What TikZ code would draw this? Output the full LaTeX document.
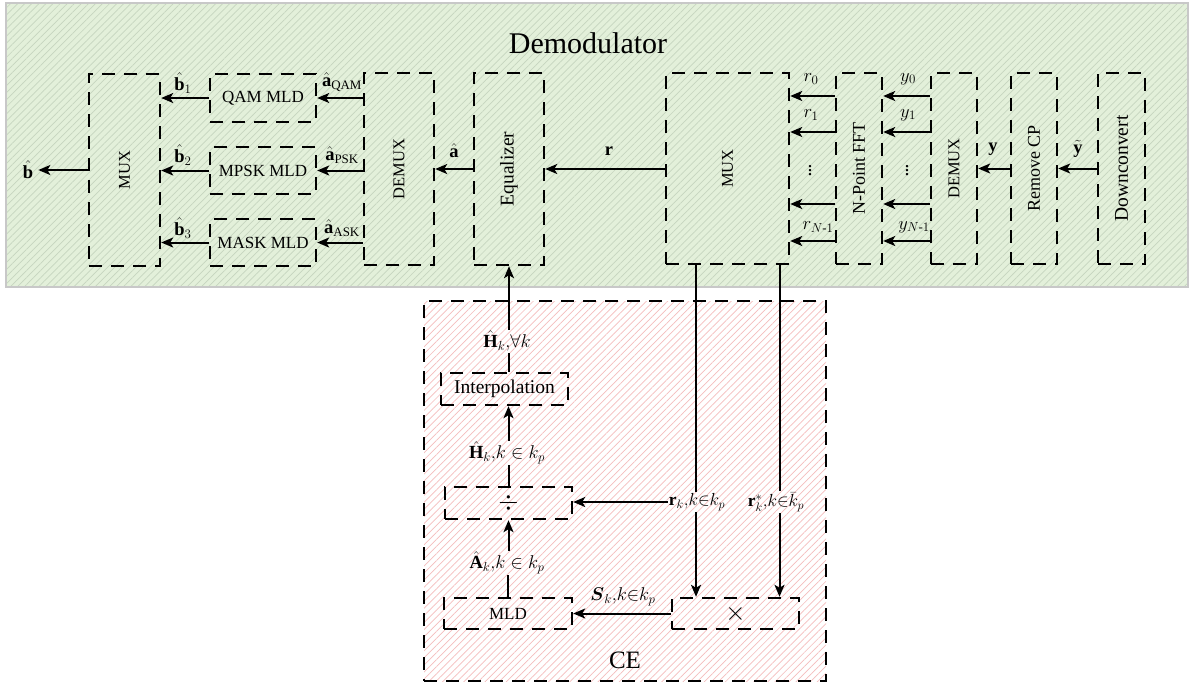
\documentclass[tikz,border=0pt]{standalone}
\usepackage{fix-cm}
\usepackage{amsmath}
\usepackage{fontspec}
\setmainfont{Liberation Serif}
\usetikzlibrary{arrows.meta,patterns.meta}
\definecolor{demfill}{HTML}{E3F0DA}
\definecolor{demhatch}{HTML}{C6D5BF}
\definecolor{cehatch}{HTML}{F5BDBD}
\definecolor{demborder}{HTML}{C8C8C8}
\newcommand{\fs}[1]{\fontsize{#1}{#1}\selectfont}
\tikzset{
  dbox/.style={draw, line width=2.4pt, dash pattern=on 13pt off 9pt, inner sep=0pt},
  conn/.style={line width=2pt},
  arr/.style={conn, -{Stealth[length=12pt,width=10pt,inset=3pt]}},
  lbl/.style={font=\fs{18.5}, inner sep=1pt},
  btxt/.style={font=\fs{17}, inner sep=0pt},
  vtxt/.style={inner sep=0pt, rotate=90},
  hatchgreen/.style={pattern={Lines[angle=45,distance=5pt,line width=0.7pt]}, pattern color=demhatch},
  hatchpink/.style={pattern={Lines[angle=45,distance=5pt,line width=0.7pt]}, pattern color=cehatch},
}
\begin{document}
\begin{tikzpicture}[x=1pt,y=-1pt]
\useasboundingbox (0,0) rectangle (1191,686);
\fill[white] (0,0) rectangle (1191,686);
% regions
\node[draw=demborder, line width=2pt, preaction={fill=demfill}, hatchgreen,
      minimum width=1182pt, minimum height=284pt, inner sep=0pt] (demod) at (597,145) {};
\node[dbox, preaction={fill=white}, hatchpink,
      minimum width=402pt, minimum height=380pt] (ce) at (625,491) {};
\node[font=\fs{30}, inner sep=0pt] (demodt) at (588,43) {Demodulator};
\node[font=\fs{25}, inner sep=0pt] (cet) at (625,660) {CE};

% demodulator boxes
\node[dbox, minimum width=71pt, minimum height=192pt] (mux1) at (124.5,170) {};
\node[vtxt, font=\fs{16.5}] (mux1t) at (mux1) {MUX};
\node[dbox, btxt, minimum width=106pt, minimum height=48pt] (qam) at (263,98) {QAM MLD};
\node[dbox, btxt, minimum width=106pt, minimum height=47pt] (mpsk) at (263,170.5) {MPSK MLD};
\node[dbox, btxt, minimum width=106pt, minimum height=47pt] (mask) at (263,242.5) {MASK MLD};
\node[dbox, minimum width=70pt, minimum height=192pt] (demux1) at (399,169) {};
\node[vtxt, font=\fs{16.5}] (demux1t) at (demux1) {DEMUX};
\node[dbox, minimum width=70pt, minimum height=192pt] (eq) at (509,169) {};
\node[vtxt, font=\fs{19.5}] (eqt) at (eq) {Equalizer};
\node[dbox, minimum width=123pt, minimum height=191pt] (mux2) at (727.5,168.5) {};
\node[vtxt, font=\fs{16.5}] (mux2t) at (mux2) {MUX};
\node[dbox, minimum width=46pt, minimum height=191pt] (fft) at (859,168.5) {};
\node[vtxt, font=\fs{18}] (fftt) at (fft) {N-Point FFT};
\node[dbox, minimum width=46pt, minimum height=191pt] (demux2) at (954,168.5) {};
\node[vtxt, font=\fs{16.5}] (demux2t) at (demux2) {DEMUX};
\node[dbox, minimum width=46pt, minimum height=191pt] (rcp) at (1034,168.5) {};
\node[vtxt, font=\fs{18}] (rcpt) at (rcp) {Remove CP};
\node[dbox, minimum width=47pt, minimum height=191pt] (down) at (1121.5,168.5) {};
\node[vtxt, font=\fs{19.5}] (downt) at (down) {Downconvert};

% CE boxes
\node[dbox, font=\fs{19.5}, minimum width=127pt, minimum height=32pt] (interp) at (504.5,389) {Interpolation};
\node[dbox, font=\fs{26}, minimum width=127pt, minimum height=32pt] (divb) at (508.5,503) {$\div$};
\node[dbox, btxt, minimum width=128pt, minimum height=31pt] (mld) at (508,613.5) {MLD};
\node[dbox, font=\fs{26}, minimum width=127pt, minimum height=31pt] (times) at (735.5,613.5) {$\times$};

% labels
\node[lbl, inner sep=5pt] (bhat) at (28,170) {$\hat{\mathbf{b}}$};
\node[lbl] (b1) at (183,83) {$\hat{\mathbf{b}}_1$};
\node[lbl] (b2) at (183,155) {$\hat{\mathbf{b}}_2$};
\node[lbl] (b3) at (183,228) {$\hat{\mathbf{b}}_3$};
\node[lbl] (aqam) at (342,82) {$\hat{\mathbf{a}}_{\text{QAM}}$};
\node[lbl] (apsk) at (342,155) {$\hat{\mathbf{a}}_{\text{PSK}}$};
\node[lbl] (aask) at (342,228) {$\hat{\mathbf{a}}_{\text{ASK}}$};
\node[lbl] (ahat) at (454,151) {$\hat{\mathbf{a}}$};
\node[lbl] (rlab) at (609,151) {$\mathbf{r}$};
\node[lbl] (r0) at (811,79) {$r_0$};
\node[lbl] (r1) at (811,115) {$r_1$};
\node[font=\fs{20}, inner sep=0pt] (rdots) at (810,168) {$\vdots$};
\node[lbl] (rN) at (818,227) {$r_{N\text{-}1}$};
\node[lbl] (y0) at (908,79) {$y_0$};
\node[lbl] (y1) at (908,115) {$y_1$};
\node[font=\fs{20}, inner sep=0pt] (ydots) at (907,168) {$\vdots$};
\node[lbl] (yN) at (914,227) {$y_{N\text{-}1}$};
\node[lbl] (ylab) at (993,149) {$\mathbf{y}$};
\node[lbl] (ytl) at (1078,149) {$\tilde{\mathbf{y}}$};
\node[lbl] (hkall) at (507,341) {$\hat{\mathbf{H}}_k{,}\forall k$};
\node[lbl] (hkp) at (507,453) {$\hat{\mathbf{H}}_k{,}k\in k_p$};
\node[lbl] (ak) at (507,563) {$\hat{\mathbf{A}}_k{,}k\in k_p$};
\node[lbl, font=\fs{17.5}] (rk) at (697,502) {$\mathbf{r}_k{,}k{\in}k_p$};
\node[lbl, font=\fs{17.5}] (rks) at (776,502) {$\mathbf{r}_k^*{,}k{\in}\bar{k}_p$};
\node[lbl] (sk) at (623,597) {$\boldsymbol{S}_k{,}k{\in}k_p$};

% channel levels
\coordinate (ch0) at (0,96);
\coordinate (ch1) at (0,132);
\coordinate (ch2) at (0,204);
\coordinate (ch3) at (0,241);
\coordinate (colrk) at (696,0);
\coordinate (colrks) at (779.5,0);

% demodulator connectors
\draw[arr] (mux1.west) -- (bhat.east |- mux1.west);
\draw[arr] (qam.west) -- (mux1.east |- qam.west);
\draw[arr] (mpsk.west) -- (mux1.east |- mpsk.west);
\draw[arr] (mask.west) -- (mux1.east |- mask.west);
\draw[arr] (demux1.west |- qam.east) -- (qam.east);
\draw[arr] (demux1.west |- mpsk.east) -- (mpsk.east);
\draw[arr] (demux1.west |- mask.east) -- (mask.east);
\draw[arr] (eq.west) -- (demux1.east |- eq.west);
\draw[arr] (mux2.west |- eq.east) -- (eq.east);
\foreach \c in {ch0,ch1,ch2,ch3}{
  \draw[arr] (fft.west |- \c) -- (mux2.east |- \c);
  \draw[arr] (demux2.west |- \c) -- (fft.east |- \c);
}
\draw[arr] (rcp.west) -- (demux2.east |- rcp.west);
\draw[arr] (down.west) -- (rcp.east |- down.west);

% CE connectors
\draw[conn] (mux2.south -| colrk) -- (rk.north -| colrk);
\draw[arr] (rk.south -| colrk) -- (times.north -| colrk);
\draw[conn] (mux2.south -| colrks) -- (rks.north -| colrks);
\draw[arr] (rks.south -| colrks) -- (times.north -| colrks);
\draw[arr] (rk.west) -- (divb.east |- rk.west);
\draw[arr] (times.west) -- (mld.east |- times.west);
\draw[conn] (mld.north) -- (ak.south -| mld.north);
\draw[arr] (ak.north -| divb.south) -- (divb.south);
\draw[conn] (divb.north) -- (hkp.south -| divb.north);
\draw[arr] (hkp.north -| divb.north) -- (interp.south -| divb.north);
\draw[conn] (interp.north -| eq.south) -- (hkall.south -| eq.south);
\draw[arr] (hkall.north -| eq.south) -- (eq.south);
\end{tikzpicture}
\end{document}
